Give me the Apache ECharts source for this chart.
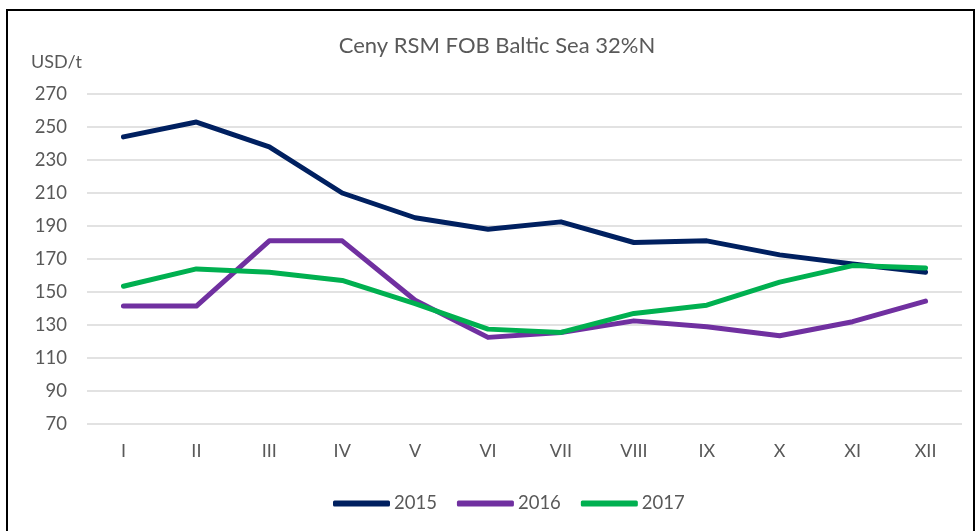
<!DOCTYPE html>
<html><head><meta charset="utf-8">
<script src="https://cdn.jsdelivr.net/npm/echarts@6/dist/echarts.min.js"></script>
<style>html,body{margin:0;padding:0;background:#fff}#c{width:978px;height:531px}</style>
</head><body><div id="c"></div>
<script>
const months = ['I','II','III','IV','V','VI','VII','VIII','IX','X','XI','XII'];
const s2015 = [244,253,238,210,195,188,192.5,180,181,172.5,167,162];
const s2016 = [141.5,141.5,181,181,145,122.5,125.5,132.5,129,123.5,132,144.5];
const s2017 = [153.5,164,162,157,143,127.5,125.5,137,142,156,166,164.5];
const yMin = 70, yMax = 270, yStep = 20;

const FONT = 'Lato, "Open Sans", sans-serif';
const chart = echarts.init(document.getElementById('c'), null, {renderer:'canvas'});
const mk = (name, data, color) => ({
  name, type:'line', data, symbol:'none', smooth:false,
  lineStyle:{width:5, color, cap:'round', join:'round'}, itemStyle:{color}
});
chart.setOption({
  animation:false,
  backgroundColor:'#fff',
  graphic:[
    {type:'rect', shape:{x:7, y:10, width:967, height:530}, style:{fill:'none', stroke:'#000', lineWidth:2}, silent:true},
    {type:'text', x:497, y:46, style:{text:'Ceny RSM FOB Baltic Sea 32%N', font:'22px '+FONT, fill:'#595959', align:'center', verticalAlign:'middle'}},
    {type:'text', x:31, y:62, style:{text:'USD/t', font:'18px '+FONT, fill:'#595959', verticalAlign:'middle'}}
  ],
  legend:{top:489, left:328, itemWidth:57, itemHeight:6, itemGap:20, icon:'roundRect',
    textStyle:{fontFamily:FONT, fontSize:18.5, color:'#595959', padding:[0,0,0,-1]}, data:['2015','2016','2017']},
  grid:{left:87, right:16, top:94, bottom:107},
  xAxis:{type:'category', data:months, boundaryGap:true,
    axisLine:{show:false}, axisTick:{show:false},
    axisLabel:{fontFamily:FONT, fontSize:18, color:'#595959', margin:18}},
  yAxis:{type:'value', min:yMin, max:yMax, interval:yStep,
    axisLine:{show:false}, axisTick:{show:false},
    axisLabel:{fontFamily:FONT, fontSize:18.5, color:'#595959', margin:20},
    splitLine:{lineStyle:{color:'#d9d9d9', width:1.5}}},
  series:[mk('2015', s2015, '#002060'), mk('2016', s2016, '#7030A0'), mk('2017', s2017, '#00B050')]
});
</script></body></html>
